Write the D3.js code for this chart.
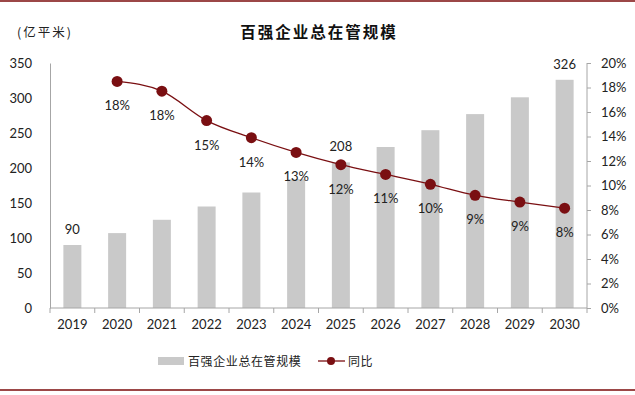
<!DOCTYPE html>
<html><head><meta charset="utf-8">
<script src="https://cdn.jsdelivr.net/npm/d3@7"></script>
<style>body{margin:0;background:#fff}svg{display:block}</style>
</head><body>
<script>
const categories = ["2019","2020","2021","2022","2023","2024","2025","2026","2027","2028","2029","2030"];
const scale = [90,107,126,145,165,184,208,230,254,277,301,326];
const yoy = [null,18.5,17.7,15.3,13.9,12.7,11.7,10.9,10.1,9.2,8.65,8.15];
const yoyLabels = [null,"18%","18%","15%","14%","13%","12%","11%","10%","9%","9%","8%"];
const barLabelShown = ["2019","2025","2030"];
const leftTicks = [0,50,100,150,200,250,300,350];
const rightTicks = [0,2,4,6,8,10,12,14,16,18,20];

const W=635,H=395;
const svg=d3.select("body").append("svg").attr("width",W).attr("height",H);
const numFont="Lato, 'Open Sans', sans-serif";
const cjk="'Noto Sans CJK SC', sans-serif";
const red="#7a0f12";

svg.append("line").attr("x1",0).attr("x2",W).attr("y1",1).attr("y2",1).attr("stroke","#9c4747").attr("stroke-width",2);
svg.append("line").attr("x1",0).attr("x2",W).attr("y1",390).attr("y2",390).attr("stroke","#9c4747").attr("stroke-width",2);

const L=50,R=587,T=63,B=308;
const xb=d3.scaleBand().domain(categories).range([L,R]);
const y=d3.scaleLinear().domain([0,350]).range([B,T]);
const y2=d3.scaleLinear().domain([0,20]).range([B,T]);

// bars
svg.selectAll("rect.bar").data(categories).enter().append("rect")
 .attr("x",d=>xb(d)+xb.bandwidth()/2-9).attr("width",18)
 .attr("y",(d,i)=>y(scale[i])).attr("height",(d,i)=>B-y(scale[i]))
 .attr("fill","#c9c9c9");

// axes
const axisColor="#a6a6a6";
const gx=svg.append("g").attr("transform",`translate(0,${B})`)
 .call(d3.axisBottom(xb).tickSize(0).tickPadding(12));
gx.select(".domain").attr("stroke",axisColor).attr("d",`M${L},0H${R}`);
gx.selectAll("text").attr("font-family",numFont).attr("font-size",13).attr("fill","#222");
categories.concat(["end"]).forEach((c,i)=>{
  const xx=L+i*xb.bandwidth();
  gx.append("line").attr("x1",xx).attr("x2",xx).attr("y1",0).attr("y2",5).attr("stroke",axisColor);
});

const gl=svg.append("g").attr("transform",`translate(${L},0)`)
 .call(d3.axisLeft(y).tickValues(leftTicks).tickSize(0).tickPadding(18));
gl.select(".domain").attr("stroke",axisColor);
gl.selectAll("text").attr("font-family",numFont).attr("font-size",13).attr("fill","#222");

const gr=svg.append("g").attr("transform",`translate(${R},0)`)
 .call(d3.axisRight(y2).tickValues(rightTicks).tickSize(4).tickPadding(10).tickFormat(d=>d+"%"));
gr.select(".domain").attr("stroke",axisColor).attr("d",`M0,${T}V${B}`);
gr.selectAll("line").attr("stroke",axisColor);
gr.selectAll("text").attr("font-family",numFont).attr("font-size",13).attr("fill","#222");

// bar labels
categories.forEach((c,i)=>{
  if(barLabelShown.includes(c)){
    svg.append("text").attr("x",xb(c)+xb.bandwidth()/2).attr("y",y(scale[i])-11)
     .attr("text-anchor","middle").attr("font-family",numFont).attr("font-size",13).attr("fill","#222").text(scale[i]);
  }
});

// line
const pts=categories.map((c,i)=>({c,v:yoy[i],l:yoyLabels[i]})).filter(d=>d.v!==null);
const line=d3.line().x(d=>xb(d.c)+xb.bandwidth()/2).y(d=>y2(d.v)).curve(d3.curveMonotoneX);
svg.append("path").datum(pts).attr("d",line).attr("fill","none").attr("stroke",red).attr("stroke-width",1.3);
svg.selectAll("circle.pt").data(pts).enter().append("circle")
 .attr("cx",d=>xb(d.c)+xb.bandwidth()/2).attr("cy",d=>y2(d.v)).attr("r",5.5).attr("fill",red);
svg.selectAll("text.pl").data(pts).enter().append("text")
 .attr("x",d=>xb(d.c)+xb.bandwidth()/2).attr("y",d=>y2(d.v)+29)
 .attr("text-anchor","middle").attr("font-family",numFont).attr("font-size",13).attr("fill","#222").text(d=>d.l);

// title
svg.append("text").attr("x",319).attr("y",38).attr("text-anchor","middle").attr("font-family",cjk)
 .attr("font-weight","bold").attr("font-size",15.5).attr("letter-spacing",2).attr("fill","#111").text("百强企业总在管规模");
svg.append("text").attr("x",17).attr("y",37).attr("font-family",cjk).attr("font-size",12.5).attr("letter-spacing",2).attr("fill","#222").text("(亿平米)");

// legend
svg.append("rect").attr("x",158).attr("y",357).attr("width",26).attr("height",8).attr("fill","#c9c9c9");
svg.append("text").attr("x",188).attr("y",365.5).attr("font-family",cjk).attr("font-size",12).attr("letter-spacing",0.6).attr("fill","#222").text("百强企业总在管规模");
svg.append("line").attr("x1",318).attr("x2",345).attr("y1",361).attr("y2",361).attr("stroke",red).attr("stroke-width",1.3);
svg.append("circle").attr("cx",331).attr("cy",361).attr("r",4).attr("fill",red);
svg.append("text").attr("x",348).attr("y",365.5).attr("font-family",cjk).attr("font-size",12).attr("letter-spacing",0.6).attr("fill","#222").text("同比");
</script>
</body></html>
